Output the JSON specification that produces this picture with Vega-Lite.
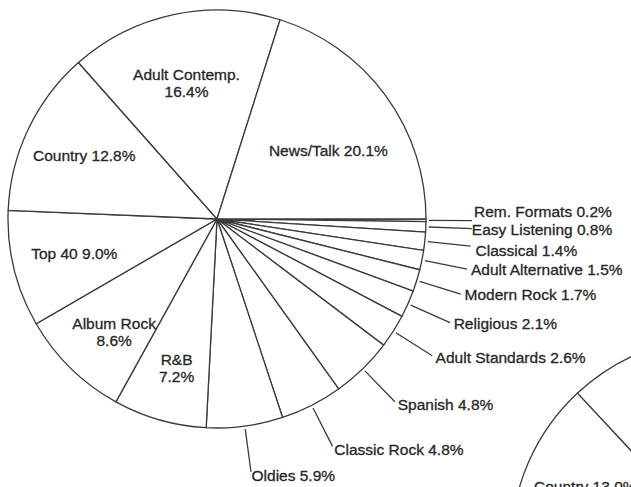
{
  "$schema": "https://vega.github.io/schema/vega-lite/v6.json",
  "width": 631,
  "height": 487,
  "padding": 0,
  "autosize": "none",
  "background": "white",
  "config": {"view": {"stroke": null}},
  "data": {
    "values": [
      {"chart": "Chart 1", "format": "Rem. Formats", "share": 0.2, "label": "Rem. Formats 0.2%"},
      {"chart": "Chart 1", "format": "Easy Listening", "share": 0.8, "label": "Easy Listening 0.8%"},
      {"chart": "Chart 1", "format": "Classical", "share": 1.4, "label": "Classical 1.4%"},
      {"chart": "Chart 1", "format": "Adult Alternative", "share": 1.5, "label": "Adult Alternative 1.5%"},
      {"chart": "Chart 1", "format": "Modern Rock", "share": 1.7, "label": "Modern Rock 1.7%"},
      {"chart": "Chart 1", "format": "Religious", "share": 2.1, "label": "Religious 2.1%"},
      {"chart": "Chart 1", "format": "Adult Standards", "share": 2.6, "label": "Adult Standards 2.6%"},
      {"chart": "Chart 1", "format": "Spanish", "share": 4.8, "label": "Spanish 4.8%"},
      {"chart": "Chart 1", "format": "Classic Rock", "share": 4.8, "label": "Classic Rock 4.8%"},
      {"chart": "Chart 1", "format": "Oldies", "share": 5.9, "label": "Oldies 5.9%"},
      {"chart": "Chart 1", "format": "R&B", "share": 7.2, "label": "R&B\n7.2%"},
      {"chart": "Chart 1", "format": "Album Rock", "share": 8.6, "label": "Album Rock\n8.6%"},
      {"chart": "Chart 1", "format": "Top 40", "share": 9.0, "label": "Top 40 9.0%"},
      {"chart": "Chart 1", "format": "Country", "share": 12.8, "label": "Country 12.8%"},
      {"chart": "Chart 1", "format": "Adult Contemp.", "share": 16.4, "label": "Adult Contemp.\n16.4%"},
      {"chart": "Chart 1", "format": "News/Talk", "share": 20.1, "label": "News/Talk 20.1%"},
      {"chart": "Chart 2", "format": "Other formats (not shown)", "share": 50.0, "label": ""},
      {"chart": "Chart 2", "format": "Country", "share": 13.0, "label": "Country 13.0%"},
      {"chart": "Chart 2", "format": "Other formats (not shown) ", "share": 36.9, "label": ""}
    ]
  },
  "transform": [
    {"stack": "share", "groupby": ["chart"], "as": ["s0", "s1"]},
    {"calculate": "(datum.s0 + datum.s1) / 2", "as": "mid"}
  ],
  "encoding": {
    "x": {"field": "chart", "type": "nominal", "axis": null,
          "scale": {"type": "point", "domain": ["Chart 1", "Chart 2"], "range": [217, 720], "padding": 0}},
    "y": {"field": "chart", "type": "nominal", "axis": null,
          "scale": {"type": "point", "domain": ["Chart 1", "Chart 2"], "range": [219, 546], "padding": 0}},
    "theta": {"field": "mid", "type": "quantitative", "stack": null,
              "scale": {"domain": [0, 99.9], "range": [1.5707963, 7.8539816], "nice": false, "zero": true}},
    "text": {"field": "label", "type": "nominal"}
  },
  "layer": [
    {
      "mark": {"type": "arc", "radius": 209, "fill": "white", "stroke": "#3a3a3a", "strokeWidth": 1.3},
      "encoding": {
        "theta": {"field": "s0", "type": "quantitative", "stack": null},
        "theta2": {"field": "s1"}
      }
    },
    {
      "transform": [{"filter": "datum.share < 7 && datum.label != ''"}],
      "mark": {"type": "arc", "radius": 255, "radius2": 212, "fillOpacity": 0, "stroke": "#3a3a3a", "strokeWidth": 1.3},
      "encoding": {
        "theta2": {"field": "mid"}
      }
    },
    {
      "transform": [{"filter": "datum.share < 7 && datum.label != '' && datum.format != 'Rem. Formats' && datum.format != 'Easy Listening' && datum.format != 'Classical'"}],
      "mark": {"type": "text", "radius": 259, "align": "left", "baseline": "middle",
               "font": "Liberation Sans", "fontSize": 15.5, "fill": "#262626", "stroke": "#262626", "strokeWidth": 0.3}
    },
    {
      "transform": [{"filter": "datum.format == 'Rem. Formats'"}],
      "mark": {"type": "text", "radius": 257, "dy": -9, "align": "left", "baseline": "middle",
               "font": "Liberation Sans", "fontSize": 15.5, "fill": "#262626", "stroke": "#262626", "strokeWidth": 0.3}
    },
    {
      "transform": [{"filter": "datum.format == 'Easy Listening'"}],
      "mark": {"type": "text", "radius": 255, "dy": 1, "align": "left", "baseline": "middle",
               "font": "Liberation Sans", "fontSize": 15.5, "fill": "#262626", "stroke": "#262626", "strokeWidth": 0.3}
    },
    {
      "transform": [{"filter": "datum.format == 'Classical'"}],
      "mark": {"type": "text", "radius": 260, "dy": 4, "align": "left", "baseline": "middle",
               "font": "Liberation Sans", "fontSize": 15.5, "fill": "#262626", "stroke": "#262626", "strokeWidth": 0.3}
    },
    {
      "transform": [{"filter": "datum.share >= 7 && datum.label != '' && datum.format != 'News/Talk'"}],
      "mark": {"type": "text", "radius": 147, "align": "center", "baseline": "middle", "lineBreak": "\n", "lineHeight": 17,
               "font": "Liberation Sans", "fontSize": 15.5, "fill": "#262626", "stroke": "#262626", "strokeWidth": 0.3}
    },
    {
      "transform": [{"filter": "datum.format == 'News/Talk'"}],
      "mark": {"type": "text", "radius": 138, "dy": 14, "align": "center", "baseline": "middle",
               "font": "Liberation Sans", "fontSize": 15.5, "fill": "#262626", "stroke": "#262626", "strokeWidth": 0.3}
    }
  ]
}
